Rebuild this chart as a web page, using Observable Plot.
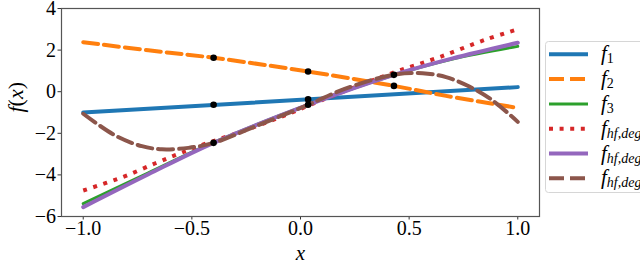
<!DOCTYPE html>
<html><head><meta charset="utf-8">
<script src="https://cdn.jsdelivr.net/npm/d3@7"></script>
<script src="https://cdn.jsdelivr.net/npm/@observablehq/plot@0.6"></script>
<style>
html,body{margin:0;padding:0;background:#fff;overflow:hidden;width:640px;height:265px}
#wrap{position:relative;width:640px;height:265px}
#wrap svg, #wrap svg text, #wrap svg tspan{font-family:"Liberation Serif","DejaVu Serif",serif !important}
#legend{position:absolute;left:545px;top:41px}
</style></head>
<body><div id="wrap"></div>
<script>
// ---- data ----
const f1X = [-1, 1];
const f1Y = [-1.0, 0.22];
const f2X = [-1, -0.7, -0.4, 0.035, 0.43, 0.67, 1];
const f2Y = [2.38, 1.99, 1.63, 0.97, 0.28, -0.2, -0.78];
const f3X = [-1, -0.7, -0.4, 0.035, 0.43, 0.7, 1];
const f3Y = [-5.38, -3.9, -2.44, -0.62, 0.8, 1.57, 2.18];
const redX = [-1, -0.82, -0.668, -0.561, -0.45, -0.3, -0.1, 0.1, 0.3, 0.455, 0.639, 0.853, 1];
const redY = [-4.75, -4.11, -3.44, -2.99, -2.55, -2.02, -1.25, -0.4, 0.42, 1.02, 1.66, 2.51, 3.0];
const purX = [-1, -0.7, -0.4, 0.035, 0.43, 0.7, 1];
const purY = [-5.55, -3.97, -2.46, -0.63, 0.81, 1.6, 2.35];
const brX = [-1, -0.852, -0.73, -0.638, -0.516, -0.4, -0.2, 0.035, 0.2, 0.43, 0.562, 0.67, 0.777, 0.884, 1];
const brY = [-1.06, -2.11, -2.62, -2.77, -2.70, -2.46, -1.63, -0.63, 0.12, 0.82, 0.89, 0.70, 0.25, -0.42, -1.45];
const dotX = [-0.4, -0.4, -0.4, 0.035, 0.035, 0.035, 0.43, 0.43];
const dotY = [-0.63, 1.63, -2.46, -0.37, 0.97, -0.63, 0.28, 0.81];
const xTicks = [-1, -0.5, 0, 0.5, 1];
const yTicks = [-6, -4, -2, 0, 2, 4];
const legendSubs = ["1", "2", "3", "hf,deg", "hf,deg", "hf,deg"];
const colors = ["#1f77b4", "#ff7f0e", "#2ca02c", "#d62728", "#9467bd", "#8c564b"];
const dashes = [null, "15,6", null, "4,6.6", null, "15,6"];
const widths = [4, 4, 3, 4, 4, 4];

const serif = "Liberation Serif, DejaVu Serif, serif";
const idx = a => d3.range(a.length);

const chart = Plot.plot({
  width: 640, height: 265,
  marginLeft: 61, marginRight: 101, marginTop: 8, marginBottom: 49,
  style: {fontSize: "20px", color: "#000", background: "#fff"},
  x: {domain: [-1.1, 1.1], ticks: xTicks, tickFormat: d3.format(".1f")},
  y: {domain: [-6, 4], ticks: yTicks, tickFormat: d3.format("d")},
  marks: [
    Plot.axisX({ticks: xTicks, tickFormat: d3.format(".1f"), tickSize: 3.5, tickPadding: 1, label: null, stroke: "#333", fontSize: 20}),
    Plot.axisY({ticks: yTicks, tickFormat: d3.format("d"), tickSize: 3.5, tickPadding: 2, label: null, stroke: "#333", fontSize: 20}),
    Plot.line(idx(f1X), {x: f1X, y: f1Y, stroke: colors[0], strokeWidth: widths[0]}),
    Plot.line(idx(f2X), {x: f2X, y: f2Y, stroke: colors[1], strokeWidth: widths[1], strokeDasharray: dashes[1], curve: "catmull-rom"}),
    Plot.line(idx(f3X), {x: f3X, y: f3Y, stroke: colors[2], strokeWidth: widths[2], curve: "catmull-rom"}),
    Plot.line(idx(redX), {x: redX, y: redY, stroke: colors[3], strokeWidth: widths[3], strokeDasharray: dashes[3], strokeLinecap: "butt", curve: "catmull-rom"}),
    Plot.line(idx(purX), {x: purX, y: purY, stroke: colors[4], strokeWidth: widths[4], curve: "catmull-rom"}),
    Plot.line(idx(brX), {x: brX, y: brY, stroke: colors[5], strokeWidth: widths[5], strokeDasharray: dashes[5], curve: "catmull-rom"}),
    Plot.dot(idx(dotX), {x: dotX, y: dotY, fill: "#000", r: 3.3}),
    Plot.frame({stroke: "#555", strokeWidth: 1.2}),
    Plot.text(["x"], {frameAnchor: "bottom", dy: 43, fontStyle: "italic", fontSize: 21, className: "xlab"}),
    Plot.text(["f(x)"], {frameAnchor: "left", dx: -46, rotate: -90, fontSize: 22, className: "ylab"})
  ]
});
document.getElementById("wrap").appendChild(chart);

// y label with italic f and x
const yl = d3.select(chart).select("g.ylab text");
if (!yl.empty()) {
  yl.text(null);
  yl.append("tspan").attr("font-style", "italic").text("f");
  yl.append("tspan").text("(");
  yl.append("tspan").attr("font-style", "italic").text("x");
  yl.append("tspan").text(")");
}

// legend
const lg = d3.select("#wrap").append("svg").attr("id", "legend")
  .attr("width", 95).attr("height", 155).style("overflow", "hidden");
lg.append("rect").attr("x", 0.5).attr("y", 0.5).attr("width", 120).attr("height", 151)
  .attr("rx", 3).attr("fill", "#fff").attr("fill-opacity", 0.8).attr("stroke", "#d6d6d6");
const rowY = i => 13.3 + i * 24.8;
legendSubs.forEach((s, i) => {
  const ln = lg.append("line").attr("x1", 4).attr("x2", 43).attr("y1", rowY(i)).attr("y2", rowY(i))
    .attr("stroke", colors[i]).attr("stroke-width", widths[i]);
  if (dashes[i]) ln.attr("stroke-dasharray", dashes[i]);
  const t = lg.append("text").attr("x", 56).attr("y", rowY(i) + 6)
    .attr("font-family", serif).attr("font-size", 21).attr("fill", "#000");
  t.append("tspan").attr("font-style", "italic").text("f");
  t.append("tspan").attr("font-size", 14).attr("dy", 3)
    .attr("font-style", /^\d$/.test(s) ? "normal" : "italic").text(s);
});
</script></body></html>
